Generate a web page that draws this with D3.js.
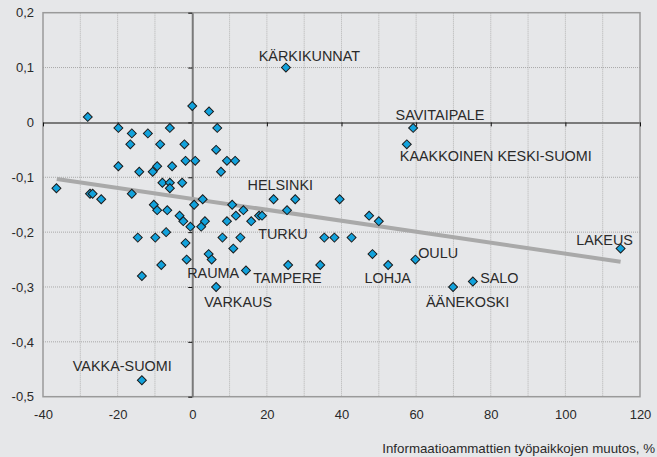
<!DOCTYPE html>
<html lang="fi">
<head>
<meta charset="UTF-8">
<title>Informaatioammattien työpaikkojen muutos</title>
<script src="https://cdnjs.cloudflare.com/ajax/libs/d3/7.8.5/d3.min.js"></script>
<style>
  html, body { margin: 0; padding: 0; background: #e6e7e9; }
  svg { display: block; font-family: "Liberation Sans", Arial, sans-serif; }
  .tick-label { font-size: 13px; fill: #2a2a2a; }
  .name { font-size: 14.4px; fill: #2a2a2a; text-anchor: middle; }
</style>
</head>
<body>
<script>
// x = change in information-occupation jobs (%), y = other change
var xValues = [-28, 0, 4.5, -19.8, -16.2, -11.9, -6, 6.7, -16.6, -8.6,
  -2.1, 6.4, -19.8, -14.2, -10.6, -9.4, -5.4, -1.8, 0.8, 9.3,
  11.5, 7.7, -36.4, -27.4, -26.7, -24.4, -16.2, -8, -6, -6,
  -2.7, 2.8, 0.5, -10.3, -9.4, -6.7, -3.4, -2.4, -0.5, 2.4,
  3.4, -14.6, -9.9, -7, -1.8, -1.5, 4.4, 5.2, -8.3, -13.5,
  21.8, 27.6, 39.5, 10.7, 13.7, 11.7, 17.9, 18.7, 25.4, 9.3,
  15.8, 8.1, 12.9, 35.4, 38.1, 11, 14.4, 25.7, 34.3, 47.4,
  50, 42.7, 48.3, 52.5, 59.8, 69.9, 75.2, 59.2, 57.5, 25.1,
  114.8, -13.5, 6.4];
var yValues = [0.01, 0.03, 0.02, -0.01, -0.02, -0.02, -0.01, -0.01, -0.04, -0.04,
  -0.04, -0.05, -0.08, -0.09, -0.09, -0.08, -0.08, -0.07, -0.07, -0.07,
  -0.07, -0.09, -0.12, -0.13, -0.13, -0.14, -0.13, -0.11, -0.11, -0.12,
  -0.11, -0.14, -0.15, -0.15, -0.16, -0.16, -0.17, -0.18, -0.19, -0.19,
  -0.18, -0.21, -0.21, -0.2, -0.22, -0.25, -0.24, -0.25, -0.26, -0.28,
  -0.14, -0.14, -0.14, -0.15, -0.16, -0.17, -0.17, -0.17, -0.16, -0.18,
  -0.18, -0.21, -0.21, -0.21, -0.21, -0.23, -0.27, -0.26, -0.26, -0.17,
  -0.18, -0.21, -0.24, -0.26, -0.25, -0.3, -0.29, -0.01, -0.04, 0.1,
  -0.23, -0.47, -0.3];

// trend line ends
var trendX = [-36.3, 114.8];
var trendY = [-0.103, -0.254];

// labels, placed in data units
var labelNames = ["KÄRKIKUNNAT", "SAVITAIPALE", "KAAKKOINEN KESKI-SUOMI", "HELSINKI", "TURKU",
  "RAUMA", "TAMPERE", "VARKAUS", "LOHJA", "OULU", "SALO", "ÄÄNEKOSKI", "LAKEUS", "VAKKA-SUOMI"];
var labelX = [31.4, 66.4, 81.35, 23.6, 24.3, 5.6, 25.5, 12.3, 52.4, 65.9, 82.3, 73.8, 110.5, -18.75];
var labelY = [0.122, 0.0137, -0.0605, -0.114, -0.2038, -0.2738, -0.283, -0.3267, -0.283, -0.2373,
  -0.283, -0.3267, -0.2142, -0.4433];

var xTicks = [-40, -20, 0, 20, 40, 60, 80, 100, 120];
var yTicks = [0.2, 0.1, 0, -0.1, -0.2, -0.3, -0.4, -0.5];
var xGrid = d3.range(-30, 120, 10);
var xTitle = "Informaatioammattien työpaikkojen muutos, %";

var width = 657, height = 457;
var plot = {left: 43, right: 640, top: 12.7, bottom: 396.7};

var x = d3.scaleLinear().domain([-40, 120]).range([plot.left, plot.right]);
var y = d3.scaleLinear().domain([-0.5, 0.2]).range([plot.bottom, plot.top]);

var svg = d3.select("body").append("svg")
    .attr("width", width)
    .attr("height", height);

svg.append("rect")
    .attr("width", width).attr("height", height)
    .attr("fill", "#e6e7e9");

// dotted grid
svg.append("g").selectAll("line")
    .data(xGrid.filter(function(d) { return d !== 0; }))
    .enter().append("line")
    .attr("x1", function(d) { return x(d); })
    .attr("x2", function(d) { return x(d); })
    .attr("y1", plot.top).attr("y2", plot.bottom)
    .attr("stroke", "#b4b4b4")
    .attr("stroke-dasharray", "1,1");

svg.append("g").selectAll("line")
    .data([0.1, -0.1, -0.2, -0.3, -0.4])
    .enter().append("line")
    .attr("x1", plot.left).attr("x2", plot.right)
    .attr("y1", function(d) { return y(d); })
    .attr("y2", function(d) { return y(d); })
    .attr("stroke", "#a8a8a8")
    .attr("stroke-dasharray", "1,1");

// plot frame
svg.append("rect")
    .attr("x", plot.left).attr("y", plot.top)
    .attr("width", plot.right - plot.left).attr("height", plot.bottom - plot.top)
    .attr("fill", "none")
    .attr("stroke", "#9a9a9a")
    .attr("stroke-width", 1.5);

// zero axes with small ticks
var xZero = svg.append("g")
    .attr("transform", "translate(0," + y(0) + ")")
    .call(d3.axisBottom(x).tickValues(xTicks).tickSize(4).tickSizeOuter(0).tickFormat(""));
var yZero = svg.append("g")
    .attr("transform", "translate(" + x(0) + ",0)")
    .call(d3.axisLeft(y).tickValues(yTicks).tickSize(4).tickSizeOuter(0).tickFormat(""));
[xZero, yZero].forEach(function(g) {
    g.select(".domain").attr("stroke", "#7a7a7a").attr("stroke-width", 2);
    g.selectAll(".tick line").attr("stroke", "#111");
});

// outer tick labels
var fmt = d3.format(".1f");
var yLab = svg.append("g")
    .attr("transform", "translate(" + plot.left + ",0)")
    .call(d3.axisLeft(y).tickValues(yTicks).tickSize(0).tickPadding(9)
        .tickFormat(function(d) { return d === 0 ? "0" : fmt(d).replace(".", ",").replace("−", "-"); }));
var xLab = svg.append("g")
    .attr("transform", "translate(0," + plot.bottom + ")")
    .call(d3.axisBottom(x).tickValues(xTicks).tickSize(0).tickPadding(13)
        .tickFormat(function(d) { return String(d); }));
[xLab, yLab].forEach(function(g) {
    g.select(".domain").remove();
    g.selectAll("text").attr("class", "tick-label")
        .attr("font-family", null).attr("font-size", null).attr("fill", "#2a2a2a");
});

// trend line
svg.append("path")
    .datum(d3.zip(trendX, trendY))
    .attr("d", d3.line().x(function(d) { return x(d[0]); }).y(function(d) { return y(d[1]); }))
    .attr("stroke", "#a9a9a9")
    .attr("stroke-width", 4)
    .attr("fill", "none");

// points
var diamond = d3.symbol().type(d3.symbolSquare).size(40);
svg.append("g").selectAll("path")
    .data(d3.zip(xValues, yValues))
    .enter().append("path")
    .attr("d", diamond)
    .attr("transform", function(d) { return "translate(" + x(d[0]) + "," + y(d[1]) + ") rotate(45)"; })
    .attr("fill", "#12a2dc")
    .attr("stroke", "#1b1b1b")
    .attr("stroke-width", 1);

// names
svg.append("g").selectAll("text")
    .data(labelNames)
    .enter().append("text")
    .attr("class", "name")
    .attr("x", function(d, i) { return x(labelX[i]); })
    .attr("y", function(d, i) { return y(labelY[i]); })
    .attr("dy", "0.36em")
    .text(function(d) { return d; });

svg.append("text")
    .attr("x", 655)
    .attr("y", 453)
    .attr("text-anchor", "end")
    .attr("font-size", "13.3px")
    .attr("fill", "#2a2a2a")
    .text(xTitle);
</script>
</body>
</html>
